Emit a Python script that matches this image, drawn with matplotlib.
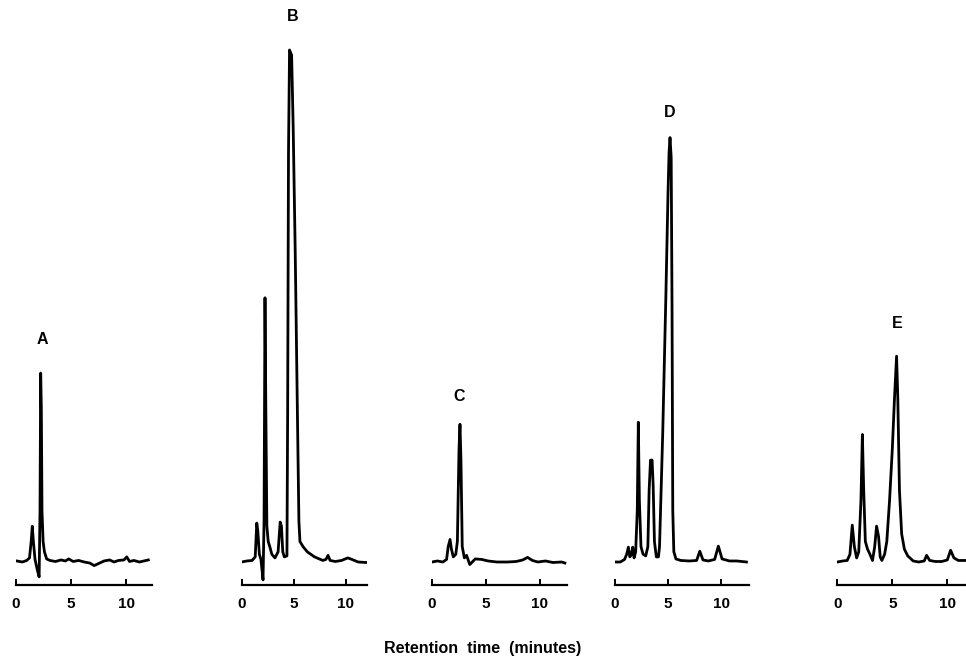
import matplotlib
matplotlib.use("Agg")
import matplotlib.pyplot as plt

plt.rcParams['font.family'] = ['Liberation Sans', 'DejaVu Sans']
plt.rcParams['font.weight'] = 'bold'

# digitised chromatograms: retention time (min) vs detector signal (% of largest peak)
t_A = [0.1, 0.6, 1.0, 1.25, 1.4, 1.5, 1.6, 1.75, 1.95, 2.12, 2.2, 2.26, 2.32, 2.38, 2.48, 2.6, 2.8, 3.1,
       3.6, 4.1, 4.5, 4.8, 5.2, 5.7, 6.2, 6.7, 7.1, 7.5, 8.0, 8.5, 8.9, 9.3, 9.8, 10.05, 10.3, 10.7,
       11.2, 11.6, 12.0]
s_A = [0.2, 0.0, 0.3, 0.8, 4.0, 7.0, 4.0, 0.5, -1.5, -2.9, 10.0, 36.9, 30.0, 10.0, 4.0, 2.0, 0.6, 0.3,
       0.1, 0.4, 0.2, 0.6, 0.1, 0.3, 0.0, -0.2, -0.7, -0.3, 0.2, 0.4, 0.0, 0.3, 0.4, 1.0, 0.1, 0.3,
       0.0, 0.2, 0.4]

t_B = [0.0, 0.5, 1.0, 1.3, 1.45, 1.55, 1.7, 1.85, 2.05, 2.15, 2.24, 2.32, 2.42, 2.55, 2.7, 2.9, 3.2,
       3.5, 3.7, 3.82, 3.95, 4.1, 4.35, 4.42, 4.5, 4.6, 4.8, 4.95, 5.15, 5.35, 5.5, 5.6, 5.9, 6.3,
       7.0, 7.8, 8.1, 8.3, 8.5, 9.0, 9.6, 10.2, 10.6, 11.2, 12.0]
s_B = [0.0, 0.2, 0.3, 1.0, 7.6, 6.0, 1.5, 0.5, -3.5, 8.0, 51.6, 30.0, 7.0, 4.0, 3.0, 1.5, 0.8,
       2.0, 7.8, 7.0, 2.0, 1.0, 1.2, 30.0, 80.0, 100.0, 99.0, 85.0, 60.0, 30.0, 8.0, 4.0, 3.0, 2.0,
       1.0, 0.3, 0.5, 1.3, 0.3, 0.1, 0.3, 0.8, 0.5, 0.0, -0.1]

t_C = [0.0, 0.5, 1.0, 1.35, 1.5, 1.67, 1.8, 1.97, 2.2, 2.35, 2.5, 2.59, 2.68, 2.8, 3.0, 3.2, 3.5,
       4.0, 4.6, 5.2, 6.0, 7.0, 7.8, 8.4, 8.85, 9.3, 9.8, 10.5, 11.2, 12.0, 12.3]
s_C = [0.0, 0.2, 0.0, 0.5, 3.0, 4.4, 2.5, 1.0, 1.5, 4.0, 22.0, 26.9, 20.0, 3.0, 0.8, 1.3, -0.5,
       0.6, 0.5, 0.2, 0.0, 0.0, 0.1, 0.4, 0.9, 0.3, 0.0, 0.2, -0.1, 0.0, -0.2]

t_D = [0.0, 0.5, 0.9, 1.1, 1.26, 1.4, 1.55, 1.67, 1.8, 1.95, 2.1, 2.2, 2.3, 2.45, 2.65, 2.9, 3.1,
       3.22, 3.35, 3.5, 3.6, 3.72, 3.9, 4.1, 4.2, 4.5, 4.8, 5.0, 5.1, 5.19, 5.3, 5.38, 5.45, 5.55, 5.75,
       6.2, 7.0, 7.7, 8.0, 8.3, 8.8, 9.4, 9.75, 10.1, 10.8, 11.5, 12.4]
s_D = [0.0, 0.0, 0.5, 1.5, 2.9, 1.0, 1.5, 2.9, 0.8, 2.0, 10.0, 27.3, 12.0, 3.0, 1.5, 1.2, 3.0,
       14.0, 19.9, 19.9, 15.0, 4.0, 1.0, 1.0, 3.0, 25.0, 52.0, 72.0, 80.0, 82.9, 79.0, 50.0, 10.0, 2.0, 0.6,
       0.3, 0.2, 0.3, 2.1, 0.4, 0.2, 0.5, 3.1, 0.6, 0.2, 0.2, 0.0]

t_E = [0.0, 0.5, 0.9, 1.15, 1.36, 1.55, 1.76, 1.95, 2.15, 2.28, 2.4, 2.55, 2.75, 2.97, 3.2, 3.4,
       3.57, 3.75, 3.9, 4.05, 4.3, 4.5, 4.75, 5.0, 5.2, 5.39, 5.5, 5.65, 5.85, 6.1, 6.4, 6.9, 7.4,
       7.9, 8.12, 8.4, 8.9, 9.5, 10.0, 10.3, 10.6, 11.0, 11.7]
s_E = [0.0, 0.2, 0.3, 1.5, 7.2, 3.0, 0.8, 2.0, 12.0, 24.9, 14.0, 4.0, 2.5, 1.5, 0.3, 3.0,
       7.0, 5.0, 1.0, 0.3, 1.5, 4.0, 12.0, 22.0, 32.0, 40.2, 32.0, 14.0, 5.5, 2.5, 1.2, 0.2, 0.0,
       0.2, 1.3, 0.3, 0.1, 0.1, 0.4, 2.3, 0.8, 0.3, 0.3]

labels = ['A', 'B', 'C', 'D', 'E']
times = [t_A, t_B, t_C, t_D, t_E]
signals = [s_A, s_B, s_C, s_D, s_E]
tick_vals = [0, 5, 10]

# layout (pixels in a 966x664 figure): left edge of time 0, px per minute, axis length (min)
W, H = 966, 664
left_px = [15.7, 241.7, 432, 615, 837.3]
px_per_min = [11.05, 10.4, 10.8, 10.6, 11.0]
xmax = [12.3, 12.0, 12.5, 12.6, 12.3]
label_pos = [(2.4, 43.4), (4.9, 106.5), (2.5, 32.4), (5.2, 87.7), (5.45, 46.5)]

axis_px = 585      # pixel row of the time axis
base_px = 562      # pixel row of the baseline
px_per_unit = 5.12
ylo = -(axis_px - base_px) / px_per_unit
yhi = base_px / px_per_unit

fig = plt.figure(figsize=(W / 100, H / 100), dpi=100)

for i in range(5):
    width = xmax[i] * px_per_min[i]
    ax = fig.add_axes([left_px[i] / W, (H - axis_px) / H, width / W, axis_px / H])
    ax.plot(times[i], signals[i], color='black', lw=2.0, solid_joinstyle='round')
    ax.set_xlim(0, xmax[i])
    ax.set_ylim(ylo, yhi)
    for sp in ['left', 'right', 'top']:
        ax.spines[sp].set_visible(False)
    ax.spines['bottom'].set_linewidth(1.6)
    ax.set_yticks([])
    ax.set_xticks(tick_vals)
    ax.set_xticklabels([str(v) for v in tick_vals], fontweight='bold', fontsize=11)
    ax.tick_params(axis='x', direction='in', length=4, width=1.4, pad=9)
    ax.patch.set_visible(False)
    lx, ly = label_pos[i]
    ax.text(lx, ly, labels[i], ha='center', va='center', fontsize=11.5, fontweight='bold')

fig.text(483 / W, 1 - 648 / H, 'Retention  time  (minutes)', ha='center', va='center',
         fontsize=11.5, fontweight='bold')

fig.savefig('out.png', dpi=100)
